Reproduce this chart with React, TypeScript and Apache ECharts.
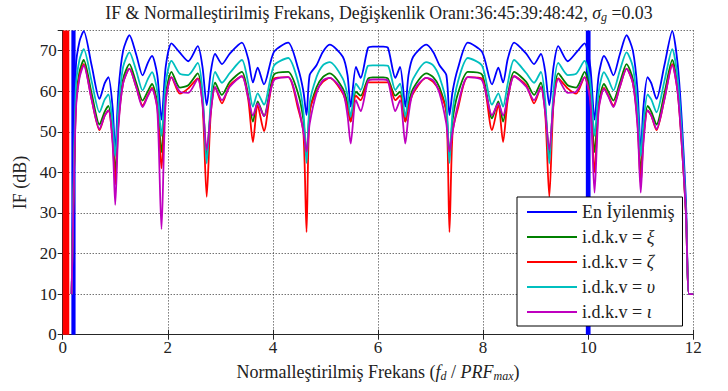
import React, { useEffect, useRef } from "react";
import * as echarts from "echarts";

// Normalised frequency grid (f_d / PRF_max)
const freq = [
  0.17, 0.25, 0.32, 0.40, 0.55, 0.70, 0.80, 0.87, 0.95, 1.00, 1.06, 1.15, 1.27, 1.40, 1.52, 1.62, 1.70, 1.80, 1.88, 1.96,
  2.07, 2.23, 2.39, 2.57, 2.66, 2.74, 2.82, 2.90, 3.03, 3.18, 3.41, 3.53, 3.62, 3.71, 3.83, 4.02, 4.29, 4.48, 4.58, 4.64,
  4.70, 4.83, 4.95, 5.08, 5.33, 5.42, 5.48, 5.58, 5.67, 5.81, 5.90, 6.00,
  6.10, 6.19, 6.33, 6.42, 6.52, 6.58, 6.67, 6.92, 7.05, 7.17, 7.30, 7.36, 7.42, 7.52, 7.71, 7.98, 8.17, 8.29, 8.38, 8.47,
  8.59, 8.82, 8.97, 9.10, 9.18, 9.26, 9.34, 9.43, 9.61, 9.77, 9.93, 10.04, 10.12, 10.20, 10.30, 10.38, 10.48, 10.60, 10.73,
  10.85, 10.94, 11.00, 11.05, 11.13, 11.20, 11.30, 11.45, 11.60, 11.70, 11.78, 11.86, 11.92, 12.00,
];

const optimised = [
  10, 66.0, 72.3, 74.8, 66.4, 58.1, 62.0, 63.5, 56.0, 45.0, 60.0, 70.0, 73.8, 69.0, 63.9, 67.0, 68.7, 64.0, 53.0, 66.0,
  71.8, 69.5, 67.4, 71.1, 66.0, 56.6, 65.0, 69.2, 66.7, 69.3, 72.0, 68.0, 62.2, 65.8, 61.7, 69.7, 72.0, 65.6, 60.0, 54.1,
  64.0, 66.4, 69.7, 71.5, 68.5, 64.0, 56.2, 66.0, 63.3, 70.7, 71.0, 71.0,
  71.0, 70.7, 63.3, 66.0, 56.2, 64.0, 68.5, 71.5, 69.7, 66.4, 64.0, 54.1, 60.0, 65.6, 72.0, 69.7, 61.7, 65.8, 62.2, 68.0,
  72.0, 69.3, 66.7, 69.2, 65.0, 56.6, 66.0, 71.1, 67.4, 69.5, 71.8, 66.0, 53.0, 64.0, 68.7, 67.0, 63.9, 69.0, 73.8,
  70.0, 60.0, 45.0, 56.0, 63.5, 62.0, 58.1, 66.4, 74.8, 67.0, 53.0, 33.0, 10, 10,
];

const xi = [
  10, 57.0, 64.8, 67.7, 59.5, 51.8, 55.0, 56.4, 49.0, 40.0, 53.0, 63.0, 66.7, 62.0, 57.7, 60.0, 61.8, 57.0, 45.0, 59.0,
  64.8, 60.9, 61.5, 64.4, 58.0, 44.0, 56.0, 62.1, 59.1, 62.3, 64.8, 59.0, 52.5, 57.5, 53.9, 64.1, 64.8, 59.4, 53.0, 44.0,
  55.0, 61.0, 63.5, 64.4, 60.7, 57.0, 52.5, 59.9, 58.9, 63.1, 63.4, 63.4,
  63.4, 63.1, 58.9, 59.9, 52.5, 57.0, 60.7, 64.4, 63.5, 61.0, 55.0, 44.0, 53.0, 59.4, 64.8, 64.1, 53.3, 57.5, 52.5, 59.0,
  64.8, 62.3, 59.1, 62.1, 56.0, 44.0, 58.0, 64.4, 61.5, 60.9, 64.8, 59.0, 45.0, 57.0, 61.8, 60.0, 57.7, 62.0, 66.7,
  63.0, 53.0, 40.0, 49.0, 56.4, 55.0, 51.8, 59.5, 67.7, 61.0, 48.0, 30.0, 10, 10,
];

const zeta = [
  10, 56.0, 63.8, 66.7, 58.0, 50.4, 54.0, 55.3, 48.0, 37.0, 52.0, 62.0, 65.6, 61.0, 56.5, 59.0, 60.8, 56.0, 41.0, 58.0,
  63.5, 59.4, 60.7, 63.2, 57.0, 34.0, 55.0, 61.0, 57.0, 61.5, 63.7, 58.0, 47.5, 56.5, 50.2, 63.1, 63.5, 55.7, 50.0, 25.3,
  55.0, 60.0, 62.3, 63.3, 59.5, 56.0, 52.5, 58.9, 57.8, 62.2, 62.2, 62.2,
  62.2, 62.2, 57.8, 58.9, 52.5, 56.0, 59.5, 63.3, 62.3, 60.0, 55.0, 25.3, 50.0, 55.7, 63.5, 63.1, 50.4, 56.5, 47.5, 58.0,
  63.7, 61.5, 57.0, 61.0, 55.0, 34.0, 57.0, 63.2, 60.7, 59.4, 63.5, 58.0, 40.0, 56.0, 60.8, 59.0, 56.5, 61.0, 65.6,
  62.0, 52.0, 37.0, 48.0, 55.3, 54.0, 50.4, 58.0, 66.7, 60.0, 47.0, 30.0, 10, 10,
];

const upsilon = [
  10, 61.0, 67.8, 70.4, 62.5, 54.8, 58.0, 59.2, 52.0, 44.0, 56.0, 66.0, 69.6, 65.0, 60.2, 63.0, 64.7, 60.0, 49.0, 62.0,
  67.5, 64.3, 64.0, 67.0, 60.0, 42.2, 58.0, 64.8, 62.1, 64.5, 67.7, 62.0, 56.2, 59.5, 56.7, 66.3, 68.2, 62.3, 55.0, 42.3,
  57.0, 63.5, 66.4, 67.2, 63.1, 59.0, 53.7, 61.9, 60.3, 66.3, 66.4, 66.4,
  66.4, 66.3, 60.3, 61.9, 53.7, 59.0, 63.1, 67.2, 66.4, 63.5, 57.0, 42.3, 55.0, 62.3, 68.2, 66.3, 56.7, 59.5, 56.2, 62.0,
  67.7, 64.5, 62.1, 64.8, 58.0, 42.2, 60.0, 67.0, 64.0, 64.3, 67.5, 62.0, 49.0, 60.0, 64.7, 63.0, 60.2, 65.0, 69.6,
  66.0, 56.0, 44.0, 52.0, 59.2, 58.0, 54.8, 62.5, 70.4, 63.5, 50.0, 31.0, 10, 10,
];

const iota = [
  10, 55.0, 63.3, 66.4, 58.0, 50.7, 54.0, 55.3, 47.0, 32.0, 51.0, 62.0, 65.5, 61.0, 56.1, 58.8, 60.6, 55.5, 26.0, 57.5,
  63.4, 59.9, 59.6, 63.0, 57.0, 45.5, 55.0, 61.0, 57.8, 61.1, 63.7, 58.5, 54.0, 57.0, 53.9, 62.7, 63.5, 56.6, 50.0, 45.1,
  52.0, 59.5, 62.7, 63.3, 59.9, 54.0, 47.1, 57.8, 55.1, 62.5, 62.9, 62.9,
  62.9, 62.5, 55.1, 57.8, 47.1, 54.0, 59.9, 63.3, 62.7, 59.5, 52.0, 45.1, 50.0, 56.6, 63.5, 62.7, 54.1, 57.0, 54.0, 58.5,
  63.7, 61.1, 57.8, 61.0, 55.0, 45.5, 57.0, 63.0, 59.6, 59.9, 63.4, 57.5, 35.0, 55.5, 60.6, 58.8, 56.1, 61.0, 65.5,
  62.0, 51.0, 35.0, 47.0, 55.3, 54.0, 50.7, 58.0, 66.4, 60.0, 47.0, 30.0, 10, 10,
];

const seriesNames = ["En İyilenmiş", "i.d.k.v = ξ", "i.d.k.v = ζ", "i.d.k.v = υ", "i.d.k.v = ι"];
const seriesValues = [optimised, xi, zeta, upsilon, iota];
const seriesColors = ["#0000ff", "#008000", "#ff0000", "#00bfbf", "#bf00bf"];

// Vertical markers (x ranges, frequency units)
const redBand = [0, 0.125];
const blueBands = [
  [0.165, 0.245],
  [9.955, 10.045],
];

const xTicks = { min: 0, max: 12, interval: 2 };
const yTicks = { min: 0, max: 75, interval: 10 };

const FONT = "Liberation Serif";

export default function App() {
  const ref = useRef<HTMLDivElement>(null);
  useEffect(() => {
    if (!ref.current) return;
    const chart = echarts.init(ref.current, undefined, { renderer: "svg" });

    const lines = seriesNames.map((name, k) => ({
      name,
      type: "line",
      data: freq.map((f, i) => [f, seriesValues[k][i]]),
      showSymbol: false,
      smooth: 0.25,
      z: 2,
      color: seriesColors[k],
      lineStyle: { width: 1.8, color: seriesColors[k] },
      clip: true,
    }));

    const bands = {
      type: "line",
      data: [],
      z: 3,
      silent: true,
      markArea: {
        silent: true,
        data: [
          [
            { xAxis: redBand[0], yAxis: yTicks.min, itemStyle: { color: "#ff0000", opacity: 1 } },
            { xAxis: redBand[1], yAxis: yTicks.max },
          ],
          ...blueBands.map((b) => [
            { xAxis: b[0], yAxis: yTicks.min, itemStyle: { color: "#0000ff", opacity: 1 } },
            { xAxis: b[1], yAxis: yTicks.max },
          ]),
        ],
      },
    };

    const axisLine = { show: true, lineStyle: { color: "#262626", width: 1 } };
    const axisTick = { show: true, inside: true, length: 5, lineStyle: { color: "#262626" } };
    const gridLine = { show: true, lineStyle: { color: "#333", type: [1, 2], width: 1 } };
    const labelStyle = { color: "#222", fontFamily: FONT, fontSize: 17 };

    const rich = {
      a: { fontFamily: FONT, fontSize: 18, color: "#222", lineHeight: 20 },
      i: { fontFamily: FONT, fontSize: 18, color: "#222", fontStyle: "italic", lineHeight: 20 },
      s: { fontFamily: FONT, fontSize: 12, color: "#222", fontStyle: "italic", lineHeight: 12, padding: [8, 0, 0, 0] },
      g: { fontFamily: FONT, fontSize: 18, color: "#222", fontStyle: "italic", lineHeight: 18 },
    };
    const legendRich = {
      a: { fontFamily: FONT, fontSize: 18, color: "#222", lineHeight: 18 },
      g: { fontFamily: FONT, fontSize: 18, color: "#222", fontStyle: "italic", lineHeight: 18 },
    };

    chart.setOption({
      animation: false,
      backgroundColor: "#fff",
      textStyle: { fontFamily: FONT },
      grid: { left: 62.7, right: 34.7, top: 30.4, bottom: 56.3, containLabel: false },
      xAxis: [
        {
          type: "value",
          ...xTicks,
          position: "bottom",
          axisLine,
          axisTick,
          axisLabel: { ...labelStyle, margin: 4 },
          splitLine: gridLine,
          name: "{a|Normalleştirilmiş Frekans (}{i|f}{s|d}{a| / }{i|PRF}{s|max}{a|)}",
          nameLocation: "middle",
          nameGap: 27,
          nameTextStyle: { fontFamily: FONT, rich },
        },
        {
          type: "value",
          ...xTicks,
          position: "top",
          axisLine,
          axisTick,
          axisLabel: { show: false },
          splitLine: { show: false },
        },
      ],
      yAxis: [
        {
          type: "value",
          ...yTicks,
          position: "left",
          axisLine,
          axisTick,
          axisLabel: { ...labelStyle, margin: 6, showMaxLabel: false },
          splitLine: gridLine,
          name: "IF (dB)",
          nameLocation: "middle",
          nameGap: 33,
          nameTextStyle: { fontFamily: FONT, fontSize: 18, color: "#222" },
        },
        {
          type: "value",
          ...yTicks,
          position: "right",
          axisLine,
          axisTick,
          axisLabel: { show: false },
          splitLine: { show: false },
        },
      ],
      legend: {
        data: seriesNames,
        orient: "vertical",
        left: 517,
        top: 197,
        z: 10,
        padding: [6, 8, 5, 10],
        itemGap: 7,
        itemWidth: 50,
        itemHeight: 2,
        icon: "rect",
        backgroundColor: "#fff",
        borderColor: "#000",
        borderWidth: 1,
        borderRadius: 0,
        formatter: (name: string) =>
          name === seriesNames[0] ? `{a|${name}}` : `{a|i.d.k.v = }{g|${name.slice(-1)}}`,
        textStyle: { fontFamily: FONT, fontSize: 18, color: "#222", lineHeight: 18, rich: legendRich },
      },
      graphic: [
        {
          type: "text",
          x: 379,
          y: 13,
          style: {
            text:
              "{t|IF & Normalleştirilmiş Frekans, Değişkenlik Oranı:36:45:39:48:42, }{ti|σ}{ts|g}{t| =0.03}",
            align: "center",
            verticalAlign: "middle",
            fontFamily: FONT,
            rich: {
              t: { fontFamily: FONT, fontSize: 17.8, fill: "#222", lineHeight: 20 },
              ti: { fontFamily: FONT, fontSize: 17.8, fill: "#222", fontStyle: "italic", lineHeight: 20 },
              ts: { fontFamily: FONT, fontSize: 12, fill: "#222", fontStyle: "italic", lineHeight: 12, padding: [8, 0, 0, 0] },
            },
          },
        },
      ],
      series: [...lines, bands],
    });
    return () => chart.dispose();
  }, []);
  return <div ref={ref} style={{ position: "fixed", left: 0, top: 0, width: 728, height: 391 }} />;
}
